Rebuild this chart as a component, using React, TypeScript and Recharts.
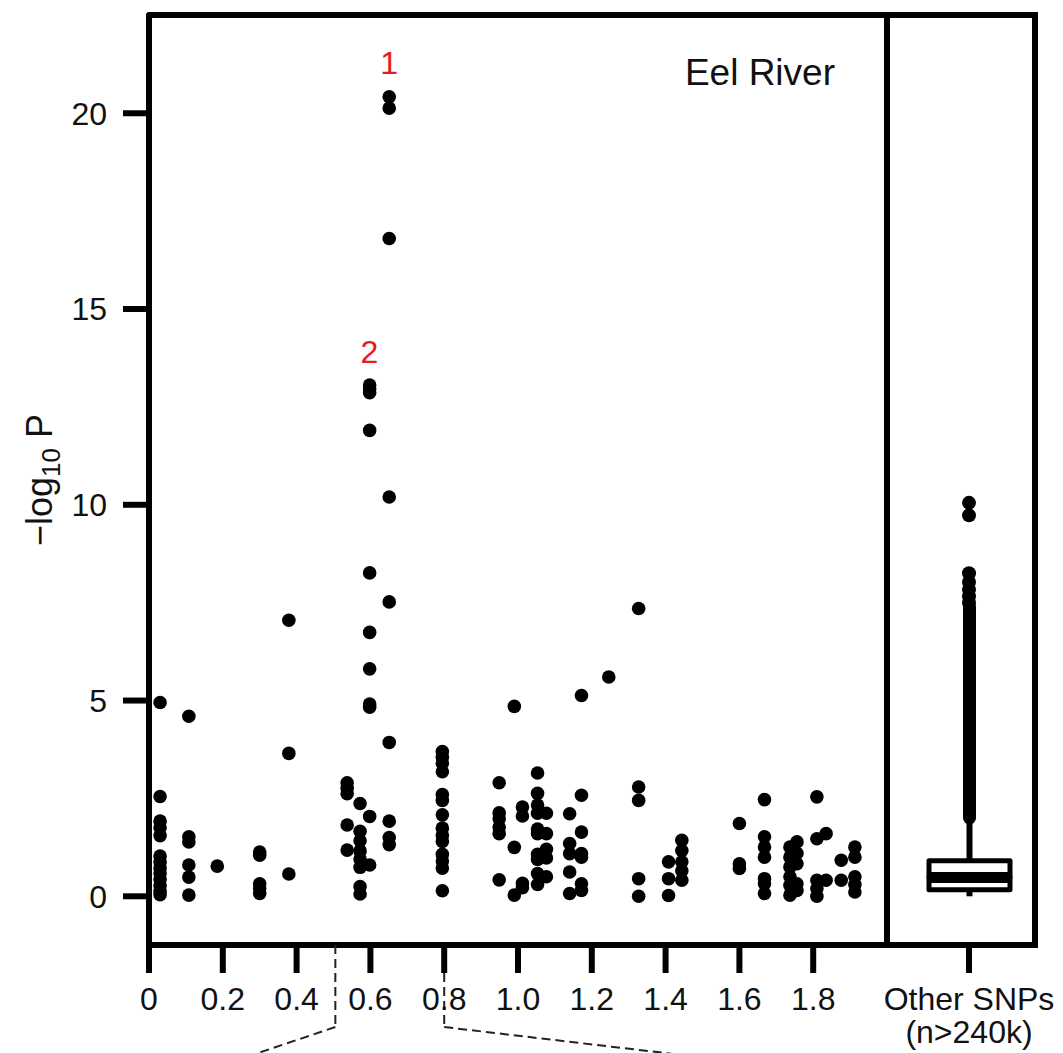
import React from 'react';
import {
    ScatterChart, Scatter, ComposedChart, Bar, XAxis, YAxis,
    ReferenceArea, ReferenceLine, ReferenceDot,
} from 'recharts';

const FONT = '"Liberation Sans", Arial, Helvetica, sans-serif';
const INK = '#111';
const RED = '#e41a1c';

// ── SNP columns: position (Mb) and the -log10 P of every SNP at it ─────────
const clusterPos = [
    0.030, 0.108, 0.185, 0.300, 0.379, 0.537, 0.572, 0.598, 0.651, 0.795,
    0.949, 0.990, 1.012, 1.053, 1.077, 1.140, 1.172, 1.246, 1.327, 1.408,
    1.444, 1.600, 1.668, 1.737, 1.756, 1.810, 1.835, 1.876, 1.913,
];
const clusterLogP = [
    [4.95, 2.55, 1.92, 1.75, 1.55, 1.03, 0.87, 0.72, 0.58, 0.43, 0.27, 0.13, 0.04],
    [4.6, 1.52, 1.39, 0.8, 0.49, 0.03],
    [0.77],
    [1.13, 1.05, 0.32, 0.2, 0.07],
    [7.05, 3.65, 0.57],
    [2.9, 2.76, 2.62, 1.82, 1.18],
    [2.37, 1.66, 1.42, 1.16, 0.95, 0.74, 0.25, 0.06],
    [13.06, 12.96, 12.86, 11.9, 8.26, 6.74, 5.81, 4.91, 4.83, 2.04, 0.8],
    [20.42, 20.13, 16.8, 10.2, 7.52, 3.93, 1.92, 1.5, 1.32],
    [3.7, 3.55, 3.4, 3.18, 2.6, 2.45, 2.08, 1.74, 1.55, 1.4, 1.07, 0.9, 0.72, 0.14],
    [2.9, 2.13, 1.98, 1.77, 1.6, 0.42],
    [4.85, 1.25, 0.03],
    [2.28, 2.05, 0.33, 0.22],
    [3.15, 2.63, 2.33, 2.12, 1.72, 1.6, 1.07, 0.94, 0.58, 0.3],
    [2.12, 1.6, 1.2, 0.98, 0.5],
    [2.11, 1.35, 1.09, 0.62, 0.07],
    [5.13, 2.58, 1.64, 1.09, 1.0, 0.32, 0.15],
    [5.6],
    [7.35, 2.79, 2.45, 0.45, 0.0],
    [0.88, 0.45, 0.02],
    [1.43, 1.17, 0.88, 0.65, 0.41],
    [1.86, 0.83, 0.71],
    [2.47, 1.52, 1.26, 1.0, 0.45, 0.32, 0.07],
    [1.26, 1.0, 0.75, 0.5, 0.28, 0.03],
    [1.39, 1.1, 0.83, 0.32, 0.15],
    [2.54, 1.47, 0.41, 0.2, 0.0],
    [1.6, 0.41],
    [0.92, 0.41],
    [1.26, 1.0, 0.5, 0.3, 0.11],
];

// numbered peaks
const peakNames = ['1', '2'];
const peakPos = [0.651, 0.597];
const peakLabelLogP = [21.3, 13.9];

// dashed guides from the axis to the zoomed region below
const guideStartPos = [0.505, 0.8];
const guideEndPos = [0.29, 1.415];
const guideBendLogP = -3.34;
const guideEndLogP = -4.02;

const xTicks = [0, 0.2, 0.4, 0.6, 0.8, 1.0, 1.2, 1.4, 1.6, 1.8];
const yTicks = [0, 5, 10, 15, 20];
const X_DOMAIN: [number, number] = [0, 2.0];
const Y_DOMAIN: [number, number] = [-1.244, 22.51];

// ── genome-wide background: boxplot of all other SNPs ──────────────────────
const otherGroup = 'Other SNPs';
const otherCount = '(n>240k)';
const boxMin = 0;
const boxQ1 = 0.17;
const boxMedian = 0.48;
const boxQ3 = 0.91;
const boxWhiskerTop = 2.0;
const denseOutlierTop = 7.4;
const sparseOutliers = [7.5, 7.66, 7.83, 8.03, 8.25, 9.73, 10.05];

const snps = clusterPos.flatMap((pos, i) => clusterLogP[i].map(logP => ({ pos, logP })));

const boxRows = [{
    group: otherGroup,
    base: boxMin,
    lowWhisker: boxQ1 - boxMin,
    lowHalf: boxMedian - boxQ1,
    highHalf: boxQ3 - boxMedian,
    highWhisker: boxWhiskerTop - boxQ3,
    dense: denseOutlierTop - boxWhiskerTop,
}];
const outlierRows = sparseOutliers.map(value => ({ group: otherGroup, value }));

const Dot = (p: any) => <circle cx={p.cx} cy={p.cy} r={6.8} fill="#000" />;

const YTitle = (props: any) => {
    const vb = props.viewBox ?? { x: 0, y: 15, width: 149, height: 930 };
    const x = vb.x + 52;
    const y = vb.y + vb.height / 2;
    return (
        <text x={x} y={y} transform={`rotate(-90 ${x} ${y})`} textAnchor="middle"
            fontSize={36} fontFamily={FONT} fill={INK}>
            −log<tspan fontSize={26} dy={8}>10</tspan><tspan dy={-8}> P</tspan>
        </text>
    );
};

const PanelTitle = (props: any) => {
    const vb = props.viewBox ?? { x: 149, y: 15, width: 738, height: 930 };
    return (
        <text x={vb.x + vb.width - 52} y={vb.y + 70} textAnchor="end"
            fontSize={37} fontFamily={FONT} fill={INK}>Eel River</text>
    );
};

const OtherTick = (p: any) => (
    <text x={p.x} y={p.y} textAnchor="middle" fontSize={32} fontFamily={FONT} fill={INK}>
        <tspan x={p.x} dy="0.71em">{otherGroup}</tspan>
        <tspan x={p.x} dy="1.05em">{otherCount}</tspan>
    </text>
);

const emptyShape = () => <g />;
const whiskerShape = (p: any) => {
    const cx = p.x + p.width / 2;
    return <line x1={cx} x2={cx} y1={p.y} y2={p.y + p.height} stroke="#000" strokeWidth={6} />;
};
const lowHalfShape = (p: any) => (
    <rect x={p.x} y={p.y} width={p.width} height={p.height}
        fill="#fff" stroke="#000" strokeWidth={5} strokeLinejoin="round" />
);
const highHalfShape = (p: any) => (
    <g>
        <rect x={p.x} y={p.y} width={p.width} height={p.height}
            fill="#fff" stroke="#000" strokeWidth={5} strokeLinejoin="round" />
        <line x1={p.x} x2={p.x + p.width} y1={p.y + p.height} y2={p.y + p.height} stroke="#000" strokeWidth={11} />
    </g>
);
const denseShape = (p: any) => {
    const cx = p.x + p.width / 2;
    return <rect x={cx - 6.5} y={p.y - 6.5} width={13} height={p.height + 13} rx={6.5} fill="#000" />;
};
const OutlierDot = (p: any) => <circle cx={p.cx} cy={p.cy} r={7} fill="#000" />;

const tickText = { fill: INK, fontSize: 32, fontFamily: FONT };
const tickStroke = { stroke: '#000', strokeWidth: 6 };
const frameStroke = { stroke: '#000', strokeWidth: 6 };
const guideStyle = { stroke: '#222', strokeWidth: 2, strokeDasharray: '9 5' };

export default function App() {
    return (
        <div style={{ position: 'absolute', left: 0, top: 0, width: 1063, height: 1053, background: '#fff' }}>
            {/* ── Region scatter ─────────────────────────────────────────── */}
            <div style={{ position: 'absolute', left: 0, top: 0 }}>
                <ScatterChart width={892} height={1053} margin={{ top: 15, right: 5, bottom: 0, left: 0 }}>
                    <XAxis type="number" dataKey="pos" domain={X_DOMAIN} ticks={xTicks} interval={0}
                        allowDataOverflow height={108} axisLine={false} tickLine={tickStroke}
                        tickSize={28} tickMargin={14} tick={tickText}
                        tickFormatter={(v: number) => (v === 0 ? '0' : v.toFixed(1))} />
                    <YAxis type="number" dataKey="logP" domain={Y_DOMAIN} ticks={yTicks} interval={0}
                        allowDataOverflow width={149} axisLine={false} tickLine={tickStroke}
                        tickSize={26} tickMargin={16} tick={tickText}
                        label={{ content: (p: any) => <YTitle {...p} /> }} />
                    <ReferenceArea x1={X_DOMAIN[0]} x2={X_DOMAIN[1]} y1={Y_DOMAIN[0]} y2={Y_DOMAIN[1]}
                        fill="none" {...frameStroke} strokeLinejoin="round" ifOverflow="visible"
                        label={(p: any) => <PanelTitle {...p} />} />
                    <Scatter data={snps} shape={Dot} isAnimationActive={false} />
                    {peakNames.map((name, i) => (
                        <ReferenceDot key={name} x={peakPos[i]} y={peakLabelLogP[i]} r={0}
                            fill="none" stroke="none"
                            label={{ value: name, position: 'center', fill: RED, fontSize: 32, fontFamily: FONT }} />
                    ))}
                    {guideStartPos.map((x0, i) => (
                        <ReferenceLine key={`v${i}`} ifOverflow="visible" {...guideStyle}
                            segment={[{ x: x0, y: Y_DOMAIN[0] }, { x: x0, y: guideBendLogP }]} />
                    ))}
                    {guideStartPos.map((x0, i) => (
                        <ReferenceLine key={`d${i}`} ifOverflow="visible" {...guideStyle}
                            segment={[{ x: x0, y: guideBendLogP }, { x: guideEndPos[i], y: guideEndLogP }]} />
                    ))}
                </ScatterChart>
            </div>

            {/* ── Genome-wide boxplot ─────────────────────────────────────── */}
            <div style={{ position: 'absolute', left: 880, top: 0 }}>
                <ComposedChart width={183} height={1053} data={boxRows}
                    margin={{ top: 15, right: 27, bottom: 0, left: 7 }}>
                    <XAxis dataKey="group" type="category" allowDuplicatedCategory={false}
                        padding={{ left: 16, right: 0 }}
                        height={108} axisLine={false} tickLine={tickStroke} tickSize={28} tickMargin={14}
                        interval={0} tick={<OtherTick />} />
                    <YAxis type="number" domain={Y_DOMAIN} allowDataOverflow hide />
                    {/* right edge of the panel frame */}
                    <YAxis yAxisId="edge" orientation="right" type="number" domain={Y_DOMAIN} width={1}
                        axisLine={frameStroke} tick={false} tickLine={false} />
                    <ReferenceLine y={Y_DOMAIN[1]} {...frameStroke} strokeLinecap="square" ifOverflow="visible" />
                    <ReferenceLine y={Y_DOMAIN[0]} {...frameStroke} strokeLinecap="square" ifOverflow="visible" />
                    <Bar dataKey="base" stackId="box" barSize={81} shape={emptyShape} isAnimationActive={false} />
                    <Bar dataKey="lowWhisker" stackId="box" barSize={81} shape={whiskerShape} isAnimationActive={false} />
                    <Bar dataKey="lowHalf" stackId="box" barSize={81} shape={lowHalfShape} isAnimationActive={false} />
                    <Bar dataKey="highHalf" stackId="box" barSize={81} shape={highHalfShape} isAnimationActive={false} />
                    <Bar dataKey="highWhisker" stackId="box" barSize={81} shape={whiskerShape} isAnimationActive={false} />
                    <Bar dataKey="dense" stackId="box" barSize={81} shape={denseShape} isAnimationActive={false} />
                    <Scatter data={outlierRows} dataKey="value" shape={OutlierDot} isAnimationActive={false} />
                </ComposedChart>
            </div>
        </div>
    );
}
